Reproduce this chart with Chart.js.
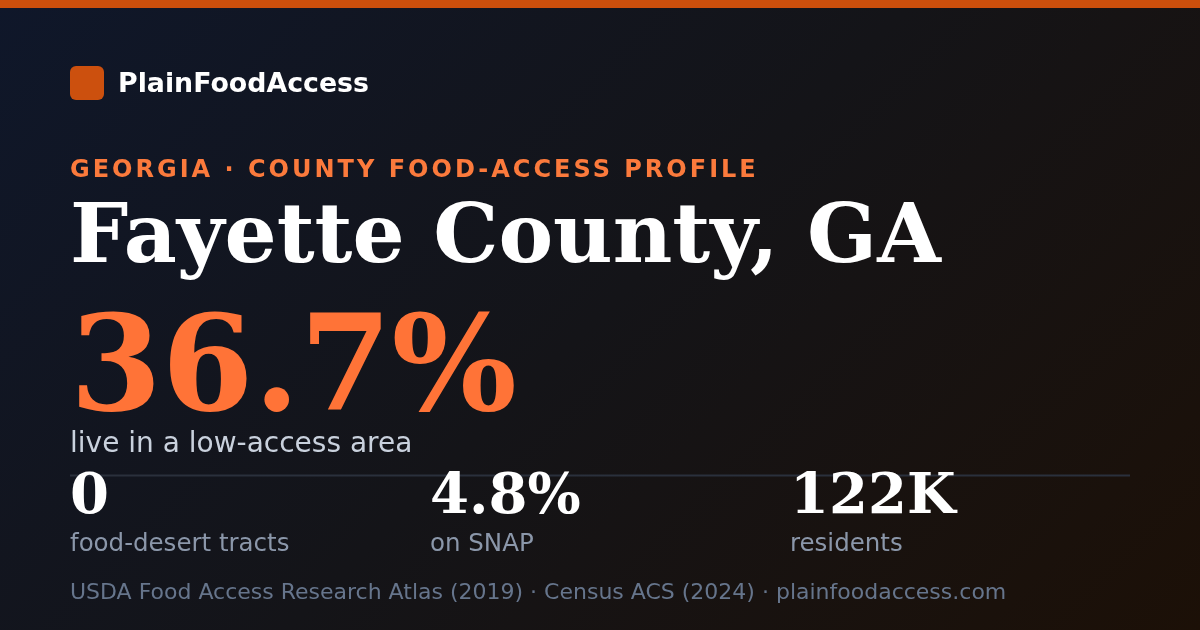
<!DOCTYPE html>
<html>
<head>
<meta charset="utf-8">
<script src="https://cdn.jsdelivr.net/npm/chart.js@4"></script>
<style>
  html, body { margin: 0; padding: 0; }
  body { width: 1200px; height: 630px; overflow: hidden; background: #121317; }
  #wrap { position: relative; width: 1200px; height: 630px; }
  #bg { position: absolute; left: 0; top: 0; }
  .t { position: absolute; line-height: 1; white-space: nowrap; margin: 0; }
  .sans { font-family: "DejaVu Sans", sans-serif; }
  .serif { font-family: "DejaVu Serif", serif; font-weight: bold; }
  #logo { position: absolute; left: 70px; top: 66px; width: 34px; height: 34px; border-radius: 6px; background: #cc500e; }
  #brand { left: 118px; top: 69.5px; font-size: 26.8px; font-weight: bold; color: #ffffff; }
  #kicker { left: 70px; top: 157px; font-size: 24px; font-weight: bold; color: #fb7a3c; letter-spacing: 3px; }
  #title { left: 70px; top: 192.3px; font-size: 82px; color: #ffffff; }
  #big { left: 70px; top: 297.6px; font-size: 132px; color: #ff7337; }
  #sub { left: 70px; top: 428.6px; font-size: 28px; color: #c9d1dd; }
  .statv { top: 464.9px; font-size: 56px; color: #ffffff; }
  .statl { top: 531px; font-size: 24.5px; color: #8b97aa; }
  #foot { left: 70px; top: 581.4px; font-size: 22px; color: #66758c; }
</style>
</head>
<body>
<div id="wrap">
  <canvas id="bg" width="1200" height="630"></canvas>
  <div id="logo"></div>
  <div id="brand" class="t sans"></div>
  <div id="kicker" class="t sans"></div>
  <div id="title" class="t serif"></div>
  <div id="big" class="t serif"></div>
  <div id="sub" class="t sans"></div>
  <div id="stats"></div>
  <div id="foot" class="t sans"></div>
</div>
<script>
// card text
const brand = 'PlainFoodAccess';
const kicker = 'GEORGIA · COUNTY FOOD-ACCESS PROFILE';
const county = 'Fayette County, GA';
const headline = '36.7%';
const headlineLabel = 'live in a low-access area';
// stat row
const statValues = ['0', '4.8%', '122K'];
const statLabels = ['food-desert tracts', 'on SNAP', 'residents'];
const sources = ['USDA Food Access Research Atlas (2019)', 'Census ACS (2024)', 'plainfoodaccess.com'];

document.getElementById('brand').textContent = brand;
document.getElementById('kicker').textContent = kicker;
document.getElementById('title').textContent = county;
document.getElementById('big').textContent = headline;
document.getElementById('sub').textContent = headlineLabel;
document.getElementById('foot').textContent = sources.join(' · ');

let stats = document.getElementById('stats');
statValues.forEach((v, i) => {
    let x = 70 + i * 360;
    let val = document.createElement('div');
    val.className = 't serif statv';
    val.style.left = x + 'px';
    val.textContent = v;
    let lab = document.createElement('div');
    lab.className = 't sans statl';
    lab.style.left = x + 'px';
    lab.textContent = statLabels[i];
    stats.appendChild(val);
    stats.appendChild(lab);
});

// background, top stripe and divider drawn by the chart
const cardBackground = {
    id: 'cardBackground',
    beforeDraw(chart) {
        const ctx = chart.ctx;
        const w = chart.width, h = chart.height;
        ctx.save();
        // same geometry as a css 135deg gradient
        let half = (w + h) * Math.SQRT1_2 / 2 * Math.SQRT1_2;
        let g = ctx.createLinearGradient(w / 2 - half, h / 2 - half, w / 2 + half, h / 2 + half);
        g.addColorStop(0, '#0f172a');
        g.addColorStop(0.5, '#141418');
        g.addColorStop(1, '#1c1007');
        ctx.fillStyle = g;
        ctx.fillRect(0, 0, w, h);
        ctx.fillStyle = '#cc4f0c';
        ctx.fillRect(0, 0, w, 8);
        ctx.restore();
    },
    afterDraw(chart) {
        const ctx = chart.ctx;
        ctx.save();
        ctx.strokeStyle = '#2a303c';
        ctx.lineWidth = 2;
        ctx.beginPath();
        ctx.moveTo(70, 475.5);
        ctx.lineTo(1130, 475.5);
        ctx.stroke();
        ctx.restore();
    }
};

var myChart = new Chart(document.getElementById('bg'), {
    type: 'bar',
    data: { labels: [], datasets: [{ data: [] }] },
    options: {
        responsive: false,
        animation: false,
        events: [],
        plugins: { legend: { display: false }, tooltip: { enabled: false } },
        scales: { x: { display: false }, y: { display: false } }
    },
    plugins: [cardBackground]
});
</script>
</body>
</html>
